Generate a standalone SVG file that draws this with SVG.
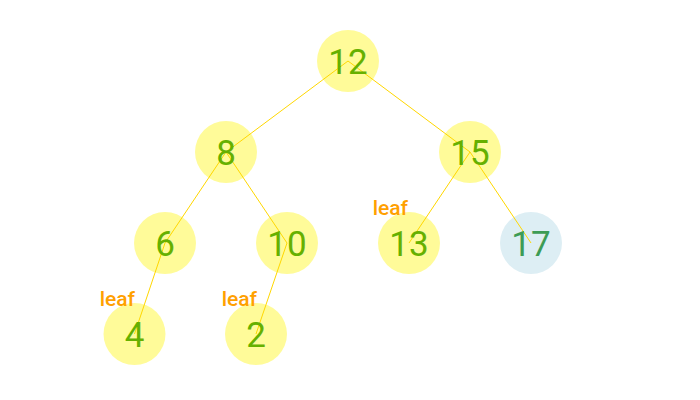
<svg xmlns="http://www.w3.org/2000/svg" width="700" height="400" viewBox="0 0 700 400">
<style>
.n circle{fill:#fffb99}
.n.b circle{fill:#ddeef4}
.n text{font-family:Roboto,"Liberation Sans",sans-serif;font-size:35px;fill:#66b000;text-anchor:middle}
.n.b text{fill:#3d9c55}
.lf{font-family:Roboto,"Liberation Sans",sans-serif;font-size:21px;font-weight:500;fill:#ffa000;text-anchor:end}
#edges line{stroke:#ffd700;stroke-width:1}
</style>
<rect width="700" height="400" fill="#ffffff"/>
<g id="node-12" class="n"><circle cx="348" cy="61" r="31"/></g>
<g id="node-8" class="n"><circle cx="226" cy="152" r="31"/></g>
<g id="node-15" class="n"><circle cx="470" cy="152" r="31"/></g>
<g id="node-6" class="n"><circle cx="165" cy="243" r="31"/></g>
<g id="node-10" class="n"><circle cx="287" cy="243" r="31"/></g>
<g id="node-13" class="n"><circle cx="409" cy="243" r="31"/></g>
<g id="node-17" class="n b"><circle cx="531" cy="243" r="31"/></g>
<g id="node-4" class="n"><circle cx="134.5" cy="334" r="31"/></g>
<g id="node-2" class="n"><circle cx="256" cy="334" r="31"/></g>
<g id="edges">
<line x1="348" y1="61" x2="226" y2="152"/>
<line x1="348" y1="61" x2="470" y2="152"/>
<line x1="226" y1="152" x2="165" y2="243"/>
<line x1="226" y1="152" x2="287" y2="243"/>
<line x1="470" y1="152" x2="409" y2="243"/>
<line x1="470" y1="152" x2="531" y2="243"/>
<line x1="165" y1="243" x2="134.5" y2="334"/>
<line x1="287" y1="243" x2="256" y2="334"/>
</g>
<g id="labels" class="n">
<text x="348" y="73.5">12</text>
<text x="226" y="164.5">8</text>
<text x="470" y="164.5">15</text>
<text x="165" y="255.5">6</text>
<text x="287" y="255.5">10</text>
<text x="409" y="255.5">13</text>
<text x="134.5" y="346.5">4</text>
<text x="256" y="346.5">2</text>
</g>
<g class="n b"><text x="531" y="255.5">17</text></g>
<text class="lf" x="135" y="305.5">leaf</text>
<text class="lf" x="257" y="305.5">leaf</text>
<text class="lf" x="408" y="215">leaf</text>
</svg>
